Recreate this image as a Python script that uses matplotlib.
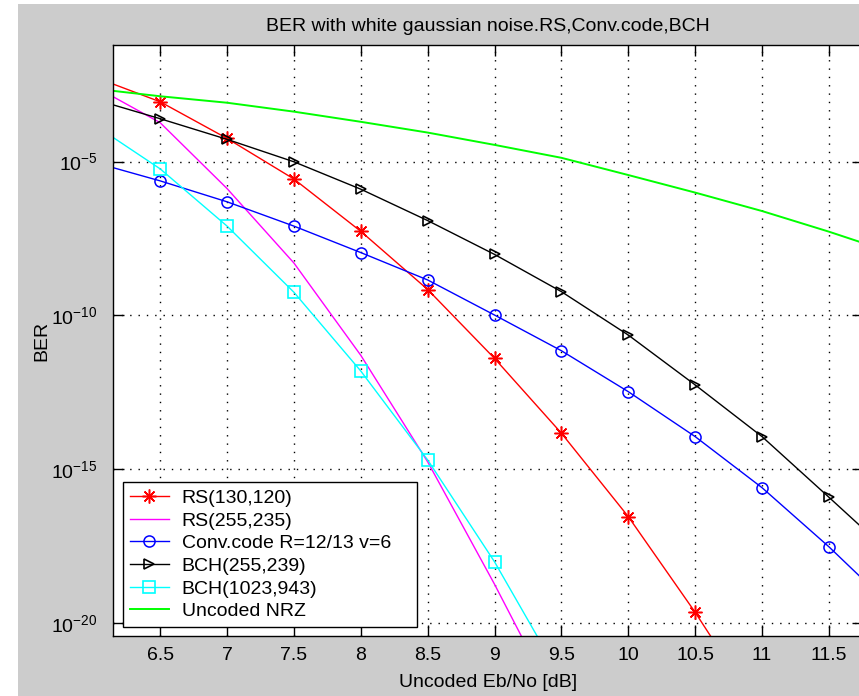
import numpy as np
import matplotlib
matplotlib.use("Agg")
import matplotlib.pyplot as plt
from matplotlib.patches import Rectangle
from matplotlib.ticker import NullLocator, FixedLocator, FuncFormatter

plt.rcParams['font.family'] = ['Liberation Sans', 'DejaVu Sans']
plt.rcParams['mathtext.fontset'] = 'custom'
plt.rcParams['mathtext.rm'] = 'Liberation Sans'
plt.rcParams['mathtext.it'] = 'Liberation Sans'
plt.rcParams['mathtext.bf'] = 'Liberation Sans'

# ---- data (log10 of BER) ----
x_full = [6.0, 6.5, 7.0, 7.5, 8.0, 8.5, 9.0, 9.5, 10.0, 10.5, 11.0, 11.5, 12.0]
x_rs130 = [6.0, 6.5, 7.0, 7.5, 8.0, 8.5, 9.0, 9.5, 10.0, 10.5, 11.0]
rs130_log = [-2.24, -3.06, -4.25, -5.57, -7.27, -9.16, -11.40, -13.83, -16.54, -19.65, -23.0]
x_rs255 = [6.0, 6.5, 7.0, 7.5, 8.0, 8.5, 9.0, 9.5]
rs255_log = [-2.54, -3.74, -5.88, -8.30, -11.30, -14.76, -18.74, -22.94]
conv_log = [-5.02, -5.63, -6.31, -7.10, -7.96, -8.85, -9.99, -11.15, -12.48, -13.94, -15.60, -17.52, -19.6]
bch255_log = [-2.97, -3.61, -4.28, -5.01, -5.90, -6.92, -8.02, -9.23, -10.64, -12.26, -13.94, -15.91, -17.9]
x_bch1023 = [6.0, 6.5, 7.0, 7.5, 8.0, 8.5, 9.0, 9.5]
bch1023_log = [-3.79, -5.24, -7.10, -9.25, -11.81, -14.70, -18.01, -21.8]
uncoded_log = [-2.63, -2.88, -3.09, -3.38, -3.71, -4.06, -4.46, -4.88, -5.44, -6.01, -6.61, -7.28, -8.0]

labels = ['RS(130,120)', 'RS(255,235)', 'Conv.code R=12/13 v=6',
          'BCH(255,239)', 'BCH(1023,943)', 'Uncoded NRZ']
xticks = [6.5, 7, 7.5, 8, 8.5, 9, 9.5, 10, 10.5, 11, 11.5]
xticklabels = ['6.5', '7', '7.5', '8', '8.5', '9', '9.5', '10', '10.5', '11', '11.5']
yticks_exp = [-20, -15, -10, -5]

W, H = 859, 696
FS = 14
fig = plt.figure(figsize=(W / 100, H / 100), dpi=100, facecolor='white')
fig.patches.append(Rectangle((18 / W, 0), 1, 1 - 4 / H, transform=fig.transFigure,
                             facecolor='#cccccc', edgecolor='none', zorder=-5))

left, right, top, bottom = 113, 863, 45, 636
ax = fig.add_axes([left / W, (H - bottom) / H, (right - left) / W, (bottom - top) / H])
ax.set_facecolor('white')

p = lambda v: 10.0 ** np.array(v)
lw = 1.0
ax.plot(x_rs130, p(rs130_log), color='#ff0000', lw=lw, marker=(8, 2, 0), ms=10, mew=1.1,
        label=labels[0])
ax.plot(x_rs255, p(rs255_log), color='#ff00ff', lw=lw, label=labels[1])
ax.plot(x_full, p(conv_log), color='#0000ff', lw=lw, marker='o', ms=8, mfc='none', mew=1.1,
        label=labels[2])
ax.plot(x_full, p(bch255_log), color='#000000', lw=lw, marker='>', ms=7.5, mfc='none', mew=1.2,
        label=labels[3])
ax.plot(x_bch1023, p(bch1023_log), color='#00ffff', lw=lw, marker='s', ms=9, mfc='none', mew=1.2,
        label=labels[4])
ax.plot(x_full, p(uncoded_log), color='#00ff00', lw=1.4, label=labels[5])

ax.set_yscale('log')
ax.set_xlim(6.147, 11.755)
ax.set_ylim(10 ** -20.42, 10 ** -1.214)

ax.xaxis.set_major_locator(FixedLocator(xticks))
ax.set_xticklabels(xticklabels)
ax.yaxis.set_major_locator(FixedLocator([10.0 ** e for e in yticks_exp]))
ax.yaxis.set_minor_locator(NullLocator())
ax.yaxis.set_major_formatter(FuncFormatter(lambda v, pos: r'$\mathdefault{10^{%d}}$' % int(round(np.log10(v)))))

ax.tick_params(direction='in', length=8, width=1, top=True, right=True,
               labelsize=FS, colors='black')
ax.tick_params(axis='x', pad=8)
ax.tick_params(axis='y', pad=11)
for s in ax.spines.values():
    s.set_color('black')
    s.set_linewidth(1.0)

ax.grid(True, which='major', color='black', linestyle=(0, (1, 5)), linewidth=1.0)

ax.set_title('BER with white gaussian noise.RS,Conv.code,BCH', fontsize=FS, pad=10)
ax.set_xlabel('Uncoded Eb/No [dB]', fontsize=FS, labelpad=7)
ax.set_ylabel('BER', fontsize=FS, labelpad=1)

leg = ax.legend(loc='lower left', bbox_to_anchor=(10 / 750, 9 / 591, 294 / 750, 0.2),
                mode='expand', borderaxespad=0,
                fontsize=FS, frameon=True, fancybox=False, framealpha=1,
                edgecolor='black', handlelength=2.0, handletextpad=0.67,
                labelspacing=0.26, borderpad=0.35)
leg.get_frame().set_linewidth(1.0)

fig.savefig('out.png', dpi=100, facecolor=fig.get_facecolor())
